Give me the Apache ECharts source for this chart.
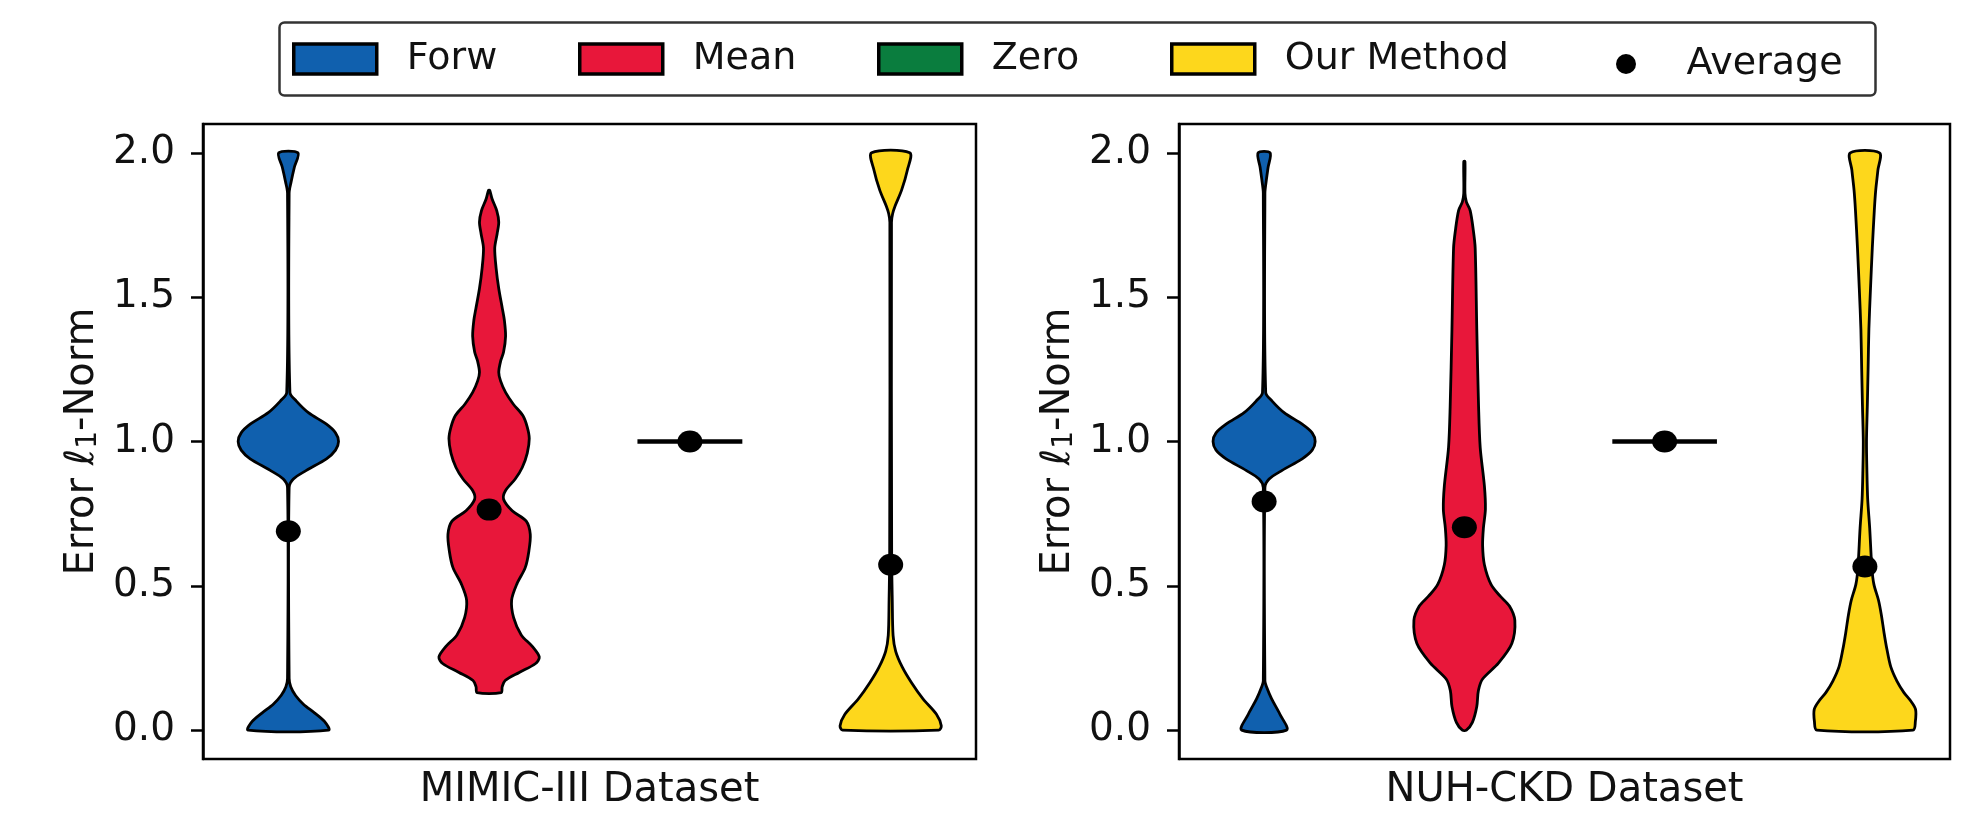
<!DOCTYPE html>
<html lang="en">
<head>
    <meta charset="utf-8"/>
    <title>Violin plots</title>
    <script src="https://cdn.jsdelivr.net/npm/echarts@6.0.0/dist/echarts.min.js"></script>
    <style>
        body { margin: 0; background: #fff; }
        #chart { width: 1984px; height: 828px; }
    </style>
</head>
<body>
<div id="chart"></div>
<script>
    // categories
    const methods = ['Forw', 'Mean', 'Zero', 'Our Method'];
    const methodColors = ['#1060ae', '#e8173a', '#0a7d3e', '#fdd71c'];
    const datasetNames = ['MIMIC-III Dataset', 'NUH-CKD Dataset'];
    const yTickValues = [0, 0.5, 1.0, 1.5, 2.0];

    // violin outlines: [error value, half width]
    const mimicForw = [
        [0.00, 0.200], [0.03, 0.180], [0.06, 0.130], [0.09, 0.075], [0.12, 0.036], [0.15, 0.012], [0.18, 0.004],
        [0.84, 0.004], [0.87, 0.025], [0.90, 0.090], [0.94, 0.190], [0.97, 0.235], [1.00, 0.250], [1.03, 0.235],
        [1.06, 0.190], [1.10, 0.100], [1.14, 0.040], [1.17, 0.008],
        [1.86, 0.004], [1.90, 0.014], [1.95, 0.030], [2.00, 0.048]
    ];
    const mimicMean = [
        [0.13, 0.060], [0.15, 0.065], [0.172, 0.080], [0.20, 0.150], [0.23, 0.230], [0.253, 0.250], [0.29, 0.215],
        [0.33, 0.160], [0.39, 0.122], [0.45, 0.112], [0.506, 0.138], [0.563, 0.180], [0.62, 0.198], [0.678, 0.205],
        [0.724, 0.185], [0.76, 0.115], [0.80, 0.072], [0.83, 0.082], [0.87, 0.130], [0.91, 0.165], [0.96, 0.190],
        [1.01, 0.200], [1.05, 0.190], [1.09, 0.168], [1.13, 0.120], [1.17, 0.082], [1.21, 0.057], [1.24, 0.048],
        [1.28, 0.058], [1.31, 0.072], [1.365, 0.082], [1.42, 0.076], [1.46, 0.066], [1.53, 0.048], [1.60, 0.035],
        [1.67, 0.028], [1.72, 0.040], [1.76, 0.048], [1.80, 0.038], [1.84, 0.015], [1.87, 0.003]
    ];
    const mimicZero = [[1.00, 0.25]];
    const mimicOurs = [
        [0.00, 0.240], [0.015, 0.252], [0.055, 0.228], [0.109, 0.160], [0.164, 0.104], [0.218, 0.058],
        [0.273, 0.025], [0.328, 0.012], [0.45, 0.008], [0.60, 0.005], [1.76, 0.004], [1.79, 0.010],
        [1.816, 0.022], [1.87, 0.054], [1.94, 0.083], [2.00, 0.095]
    ];
    const nuhForw = [
        [0.00, 0.112], [0.055, 0.079], [0.109, 0.037], [0.15, 0.012], [0.17, 0.004],
        [0.84, 0.004], [0.87, 0.025], [0.90, 0.090], [0.94, 0.190], [0.97, 0.240], [1.00, 0.255], [1.03, 0.240],
        [1.06, 0.190], [1.10, 0.100], [1.14, 0.040], [1.17, 0.008],
        [1.86, 0.004], [1.90, 0.010], [1.95, 0.020], [2.00, 0.030]
    ];
    const nuhMean = [
        [0.00, 0.010], [0.027, 0.040], [0.082, 0.062], [0.137, 0.070], [0.177, 0.091], [0.232, 0.170],
        [0.30, 0.237], [0.38, 0.252], [0.43, 0.225], [0.464, 0.179], [0.505, 0.133], [0.573, 0.100],
        [0.64, 0.091], [0.70, 0.095], [0.765, 0.105], [0.846, 0.100], [0.98, 0.079], [1.12, 0.071],
        [1.39, 0.062], [1.67, 0.054], [1.73, 0.045], [1.80, 0.029], [1.83, 0.010], [1.86, 0.003], [1.97, 0.003]
    ];
    const nuhZero = [[1.00, 0.25]];
    const nuhOurs = [
        [0.00, 0.240], [0.03, 0.252], [0.072, 0.253], [0.10, 0.230], [0.13, 0.195], [0.17, 0.160], [0.22, 0.129],
        [0.28, 0.110], [0.336, 0.096], [0.40, 0.082], [0.45, 0.068], [0.505, 0.045], [0.56, 0.035], [0.70, 0.024],
        [0.80, 0.014], [0.90, 0.010], [1.00, 0.008], [1.12, 0.012], [1.25, 0.016], [1.39, 0.020], [1.53, 0.028],
        [1.67, 0.037], [1.80, 0.047], [1.87, 0.054], [1.94, 0.065], [2.00, 0.073]
    ];

    // average markers
    const mimicAverage = [0.689, 0.764, 1.0, 0.573];
    const nuhAverage = [0.792, 0.703, 1.0, 0.567];

    const FONT = 'DejaVu Sans';
    const chart = echarts.init(document.getElementById('chart'), null, {renderer: 'canvas'});

    function violinSeries(name, color, profile, pos, idx) {
        return {
            type: 'custom',
            name: name,
            xAxisIndex: idx,
            yAxisIndex: idx,
            itemStyle: {color: color},
            z: 2,
            data: [[pos, profile[0][0]]],
            renderItem: function (params, api) {
                if (profile.length === 1) {
                    const a = api.coord([pos - profile[0][1], profile[0][0]]);
                    const b = api.coord([pos + profile[0][1], profile[0][0]]);
                    return {
                        type: 'line',
                        shape: {x1: a[0], y1: a[1], x2: b[0], y2: b[1]},
                        style: {stroke: '#000', lineWidth: 4.5, lineCap: 'square'}
                    };
                }
                const left = profile.map(p => api.coord([pos - p[1], p[0]]));
                const right = profile.map(p => api.coord([pos + p[1], p[0]])).reverse();
                return {
                    type: 'polygon',
                    shape: {points: left.concat(right), smooth: 0.3},
                    style: {fill: color, stroke: '#000', lineWidth: 2.8, lineJoin: 'round'}
                };
            }
        };
    }

    const profiles = [
        [mimicForw, mimicMean, mimicZero, mimicOurs],
        [nuhForw, nuhMean, nuhZero, nuhOurs]
    ];
    const averages = [mimicAverage, nuhAverage];

    let series = [];
    profiles.forEach(function (set, idx) {
        set.forEach(function (profile, i) {
            series.push(violinSeries(methods[i], methodColors[i], profile, i + 1, idx));
        });
        series.push({
            type: 'scatter',
            name: 'Average',
            xAxisIndex: idx,
            yAxisIndex: idx,
            symbol: 'circle',
            symbolSize: [25, 22],
            itemStyle: {color: '#000', opacity: 1},
            z: 5,
            data: averages[idx].map((v, i) => [i + 1, v])
        });
    });

    const grids = [
        {left: 203, top: 124, width: 773, height: 635},
        {left: 1179, top: 124, width: 771, height: 635}
    ];

    const xAxes = datasetNames.map(function (label, idx) {
        return {
            type: 'value',
            gridIndex: idx,
            min: 0.575,
            max: 4.425,
            name: label,
            nameLocation: 'middle',
            nameGap: 12,
            nameTextStyle: {fontFamily: FONT, fontSize: 40, color: '#111', verticalAlign: 'top'},
            axisLine: {show: false},
            axisTick: {show: false},
            axisLabel: {show: false},
            splitLine: {show: false}
        };
    });

    const yAxes = datasetNames.map(function (label, idx) {
        return {
            type: 'value',
            gridIndex: idx,
            min: -0.1,
            max: 2.1,
            name: 'Error {ell|ℓ}{sub|1}-Norm',
            nameLocation: 'middle',
            nameGap: 100,
            nameRotate: 90,
            nameTextStyle: {
                fontFamily: FONT, fontSize: 40, color: '#111',
                rich: {
                    ell: {fontFamily: FONT, fontSize: 40, fontStyle: 'italic', color: '#111'},
                    sub: {fontFamily: FONT, fontSize: 28, color: '#111', verticalAlign: 'bottom', padding: [12, 0, 0, 0]}
                }
            },
            axisLine: {show: true, lineStyle: {color: '#000', width: 2.5}},
            axisTick: {show: true, inside: false, length: 12, lineStyle: {color: '#000', width: 2.5}, customValues: yTickValues},
            axisLabel: {
                show: true, margin: 28, fontFamily: FONT, fontSize: 39, color: '#111',
                customValues: yTickValues,
                formatter: v => Number(v).toFixed(1)
            },
            splitLine: {show: false}
        };
    });

    const legendSlots = [
        {name: 'Forw', left: 292},
        {name: 'Mean', left: 578},
        {name: 'Zero', left: 877},
        {name: 'Our Method', left: 1170}
    ];
    let legends = legendSlots.map(function (slot, i) {
        return {
            left: slot.left,
            top: 40,
            padding: 0,
            itemWidth: 83,
            itemHeight: 30,
            selectedMode: false,
            data: [{name: slot.name, icon: 'rect', itemStyle: {color: methodColors[i], borderColor: '#000', borderWidth: 3.5}}],
            textStyle: {fontFamily: FONT, fontSize: 38, color: '#111', lineHeight: 30, padding: [0, 0, 0, 25]}
        };
    });
    legends.push({
        left: 1616,
        top: 45,
        padding: 0,
        itemWidth: 83,
        itemHeight: 20,
        selectedMode: false,
        data: [{name: 'Average', icon: 'circle', itemStyle: {color: '#000', borderWidth: 0, opacity: 1}}],
        textStyle: {fontFamily: FONT, fontSize: 38, color: '#111', lineHeight: 20, padding: [0, 0, 0, 14]}
    });

    const option = {
        backgroundColor: '#fff',
        animation: false,
        textStyle: {fontFamily: FONT},
        legend: legends,
        grid: grids.map(g => Object.assign({show: true, borderColor: '#000', borderWidth: 2.5, backgroundColor: 'transparent'}, g)),
        xAxis: xAxes,
        yAxis: yAxes,
        graphic: [{
            type: 'rect',
            left: 277,
            top: 20,
            shape: {width: 1596, height: 73, r: 5},
            style: {fill: 'none', stroke: '#333', lineWidth: 2.5},
            z: 100
        }],
        series: series
    };
    chart.setOption(option);
</script>
</body>
</html>
